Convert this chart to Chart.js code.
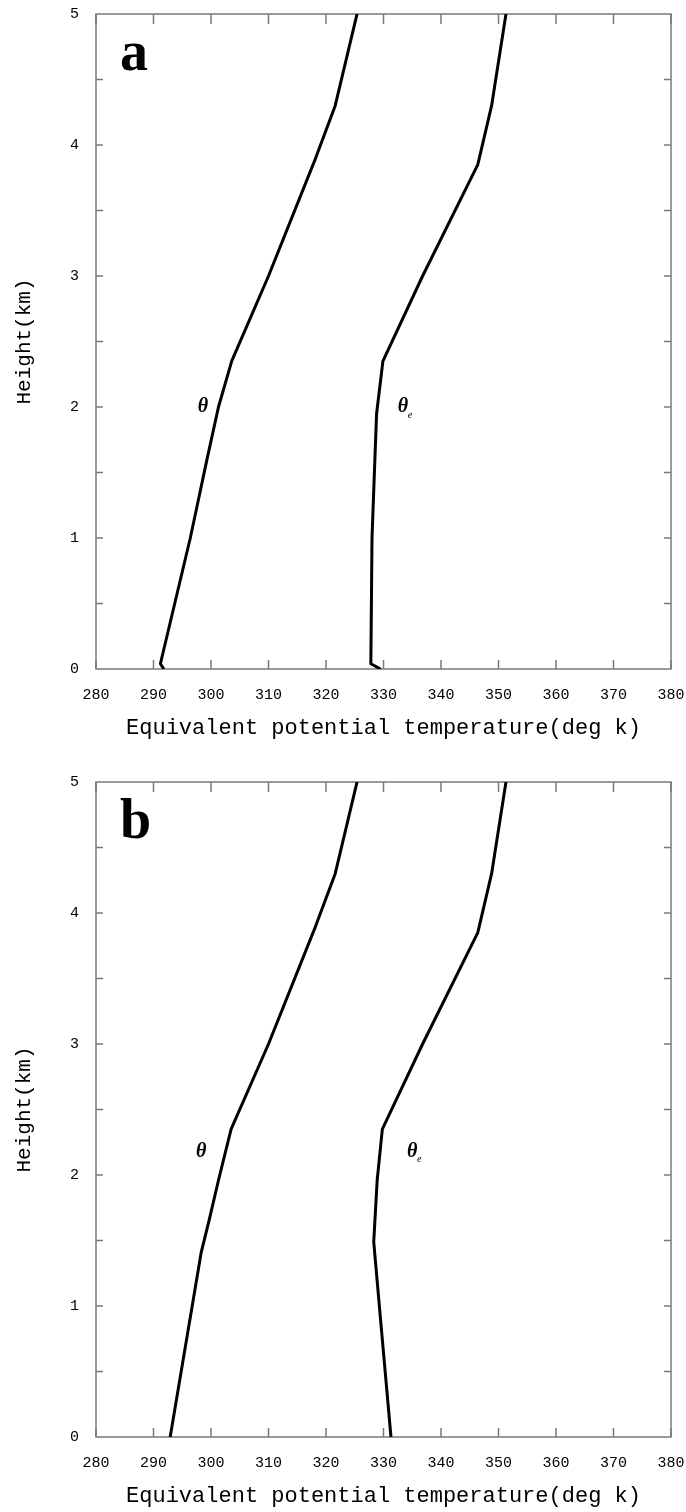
<!DOCTYPE html>
<html>
<head>
<meta charset="utf-8">
<script src="https://cdn.jsdelivr.net/npm/chart.js@4.4.1/dist/chart.umd.min.js"></script>
<style>
  html, body { margin: 0; padding: 0; background: #fff; overflow: hidden; }
  canvas { display: block; }
</style>
</head>
<body>
<canvas id="panelA" width="686" height="768"></canvas>
<canvas id="panelB" width="686" height="768"></canvas>
<script>
// axis ticks
const xTicks = [280, 290, 300, 310, 320, 330, 340, 350, 360, 370, 380];
const yTicks = [0, 1, 2, 3, 4, 5];

// panel a
const thetaA_T = [291.8, 291.2, 296.4, 299.3, 301.3, 303.6, 310.0, 318.2, 321.6, 325.4];
const thetaA_H = [0.0, 0.04, 1.0, 1.6, 2.0, 2.35, 3.0, 3.9, 4.3, 5.0];
const thetaEA_T = [329.5, 327.8, 328.0, 328.5, 328.8, 329.9, 336.8, 346.4, 348.8, 351.3];
const thetaEA_H = [0.0, 0.04, 1.0, 1.6, 1.95, 2.35, 3.0, 3.85, 4.3, 5.0];

// panel b
const thetaB_T = [292.9, 298.3, 299.7, 301.3, 303.5, 310.0, 318.2, 321.6, 325.4];
const thetaB_H = [0.0, 1.41, 1.66, 1.96, 2.35, 3.0, 3.9, 4.3, 5.0];
const thetaEB_T = [331.3, 329.5, 328.3, 328.9, 329.8, 336.8, 346.4, 348.8, 351.3];
const thetaEB_H = [0.0, 0.89, 1.49, 1.96, 2.35, 3.0, 3.85, 4.3, 5.0];

// where the curve names sit (data coords)
const labelsA = { theta: [298.6, 2.0], thetaE: [333.4, 2.0] };
const labelsB = { theta: [298.3, 2.18], thetaE: [335.0, 2.18] };

const frameColor = '#7a7a7a';

function toPoints(ts, hs) {
    return ts.map((t, i) => ({ x: t, y: hs[i] }));
}

// no extra room for edge labels, the plot box is fixed by layout padding
function noPad(s) {
    s.paddingTop = 0; s.paddingBottom = 0;
    s.paddingLeft = 0; s.paddingRight = 0;
}

// frame + inward ticks on all four sides, and the text labels
const framePlugin = {
    id: 'frame',
    beforeDatasetsDraw(chart) {
        const { ctx, chartArea: a, scales: { x, y } } = chart;
        ctx.save();
        ctx.strokeStyle = frameColor;
        ctx.lineWidth = 1.5;
        ctx.strokeRect(a.left, a.top, a.right - a.left, a.bottom - a.top);
        ctx.beginPath();
        xTicks.forEach(v => {
            const px = x.getPixelForValue(v);
            ctx.moveTo(px, a.bottom); ctx.lineTo(px, a.bottom - 9);
            ctx.moveTo(px, a.top); ctx.lineTo(px, a.top + 10);
        });
        for (let v = 0.5; v < 5; v += 0.5) {
            const py = y.getPixelForValue(v);
            ctx.moveTo(a.left, py); ctx.lineTo(a.left + 7, py);
            ctx.moveTo(a.right, py); ctx.lineTo(a.right - 7, py);
        }
        ctx.stroke();
        ctx.restore();
    },
    afterDraw(chart, args, opts) {
        const { ctx, chartArea: a, scales: { x, y } } = chart;
        ctx.save();
        ctx.fillStyle = '#000';
        ctx.textBaseline = 'alphabetic';
        ctx.font = 'bold 56px "Liberation Serif"';
        ctx.fillText(opts.letter, a.left + 24, a.top + 56);

        ctx.textAlign = 'center';
        ctx.textBaseline = 'middle';
        ctx.font = 'italic bold 20px "Liberation Serif"';
        const t = opts.names.theta;
        ctx.fillText('\u03B8', x.getPixelForValue(t[0]), y.getPixelForValue(t[1]));
        const te = opts.names.thetaE;
        const ex = x.getPixelForValue(te[0]);
        const ey = y.getPixelForValue(te[1]);
        ctx.fillText('\u03B8', ex, ey);
        ctx.font = 'italic 10px "Liberation Serif"';
        ctx.fillText('e', ex + 7, ey + 8);
        ctx.restore();
    }
};

function makePanel(id, letter, names, thT, thH, teT, teH) {
    const ctx = document.getElementById(id).getContext('2d');
    return new Chart(ctx, {
        type: 'scatter',
        data: {
            datasets: [
                { label: 'theta', data: toPoints(thT, thH) },
                { label: 'theta_e', data: toPoints(teT, teH) }
            ]
        },
        options: {
            responsive: false,
            animation: false,
            showLine: true,
            layout: { padding: { top: 14, right: 15, left: 0, bottom: 0 } },
            elements: {
                line: { borderColor: '#000', borderWidth: 3, tension: 0, fill: false, borderJoinStyle: 'round' },
                point: { radius: 0, hoverRadius: 0 }
            },
            plugins: {
                legend: { display: false },
                tooltip: { enabled: false },
                frame: { letter: letter, names: names }
            },
            scales: {
                x: {
                    type: 'linear',
                    min: 280, max: 380,
                    afterBuildTicks: s => { s.ticks = xTicks.map(v => ({ value: v })); },
                    afterFit: s => { s.height = 99; noPad(s); },
                    grid: { display: false, drawTicks: false },
                    border: { display: false },
                    ticks: {
                        color: '#000', padding: 17, maxRotation: 0,
                        font: { family: '"Liberation Mono"', size: 15 }
                    },
                    title: {
                        display: true,
                        text: 'Equivalent potential temperature(deg k)',
                        color: '#000',
                        font: { family: '"Liberation Mono"', size: 22 },
                        padding: { top: 27, bottom: 27 }
                    }
                },
                y: {
                    type: 'linear',
                    min: 0, max: 5,
                    afterBuildTicks: s => { s.ticks = yTicks.map(v => ({ value: v })); },
                    afterFit: s => { s.width = 96; noPad(s); },
                    grid: { display: false, drawTicks: false },
                    border: { display: false },
                    ticks: {
                        color: '#000', padding: 17,
                        font: { family: '"Liberation Mono"', size: 15 }
                    },
                    title: {
                        display: true,
                        text: 'Height(km)',
                        color: '#000',
                        font: { family: '"Liberation Mono"', size: 21 },
                        padding: { top: 12, bottom: 12 }
                    }
                }
            }
        },
        plugins: [framePlugin]
    });
}

makePanel('panelA', 'a', labelsA, thetaA_T, thetaA_H, thetaEA_T, thetaEA_H);
makePanel('panelB', 'b', labelsB, thetaB_T, thetaB_H, thetaEB_T, thetaEB_H);
</script>
</body>
</html>
